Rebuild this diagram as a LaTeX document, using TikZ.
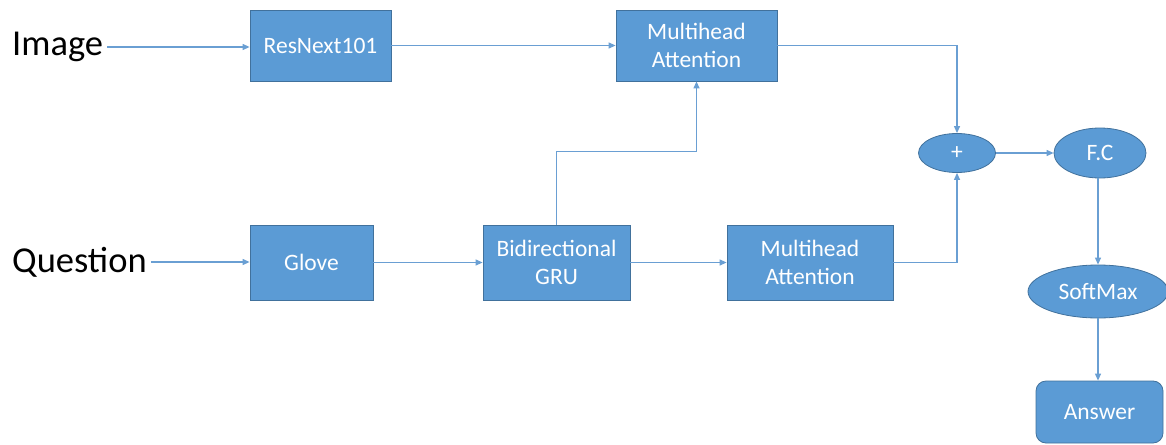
\documentclass[tikz,border=0pt]{standalone}
\usepackage{fontspec}
\setmainfont{Carlito}
\usetikzlibrary{arrows.meta,shapes.geometric,calc}
\definecolor{offblue}{HTML}{5B9BD5}
\definecolor{offedge}{HTML}{41719C}
\definecolor{lineblue}{HTML}{6A9FD3}
\tikzset{
  blk/.style={draw=offedge, line width=0.8pt, fill=offblue, text=white, inner sep=0pt, align=center,
    font=\fontsize{23.5}{28}\selectfont},
  ell/.style={blk, ellipse},
  lbl/.style={inner sep=4pt, font=\fontsize{36.5}{40}\selectfont, text=black},
  arr/.style={draw=lineblue, line width=1.2pt, -{Triangle[length=7pt,width=6pt]}},
}
\begin{document}
\begin{tikzpicture}[x=1pt,y=-1pt]
\useasboundingbox (0,0) rectangle (1166,444);
% labels
\node[lbl, anchor=west] (img) at (8,47) {Image};
\node[lbl, anchor=west] (que) at (8,262) {Question};
% boxes
\node[blk, minimum width=141pt, minimum height=71pt] (res) at (320.5,45.5) {ResNext101};
\node[blk, minimum width=161pt, minimum height=71pt] (mh1) at (696.5,45.5) {Multihead\\Attention};
\node[blk, minimum width=123pt, minimum height=75pt] (glove) at (311.5,262.5) {Glove};
\node[blk, minimum width=147pt, minimum height=75pt] (gru) at (556.5,262.5) {Bidirectional\\GRU};
\node[blk, minimum width=166pt, minimum height=75pt] (mh2) at (810,262.5) {Multihead\\Attention};
\node[ell, minimum width=77pt, minimum height=39pt] (plus) at (957,153) {+};
\node[ell, minimum width=92pt, minimum height=50pt] (fc) at (1100,153) {F.C};
\node[ell, minimum width=140pt, minimum height=53pt] (sm) at (1098,291.5) {SoftMax};
\node[blk, rounded corners=10pt, minimum width=127pt, minimum height=62pt] (ans) at (1099.5,412) {Answer};
% connectors
\draw[arr] (img.east) -- (img.east -| res.west);
\draw[arr] (que.east) -- (que.east -| glove.west);
\draw[arr] (res.east) -- (mh1.west);
\draw[arr] (glove.east) -- (gru.west);
\draw[arr] (gru.east) -- (mh2.west);
\draw[arr] (gru.north) -- ++(0,-73) -| (mh1.south);
\draw[arr] (mh1.east) -| (plus.north);
\draw[arr] (mh2.east) -| (plus.south);
\draw[arr] (plus.east) -- (fc.west);
\draw[arr] (fc.south -| sm.north) -- (sm.north);
\draw[arr] (sm.south) -- (sm.south |- ans.north);
\end{tikzpicture}
\end{document}
